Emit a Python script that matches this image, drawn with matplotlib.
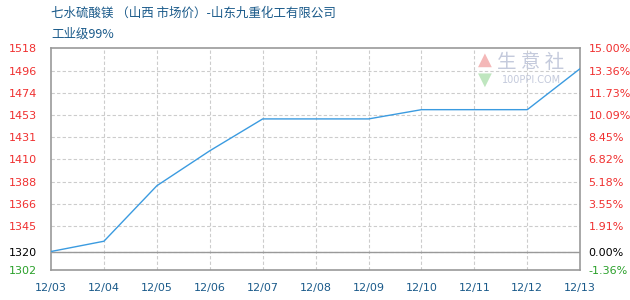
import matplotlib.pyplot as plt

plt.rcParams['font.family'] = ['Noto Sans CJK SC', 'DejaVu Sans']

# data
dates = ['12/03', '12/04', '12/05', '12/06', '12/07', '12/08',
         '12/09', '12/10', '12/11', '12/12', '12/13']
prices = [1320, 1330, 1384, 1418, 1449, 1449, 1449, 1458, 1458, 1458, 1498]

base = 1320
left_ticks = [1302, 1320, 1345, 1366, 1388, 1410, 1431, 1453, 1474, 1496, 1518]
right_labels = ['-1.36%', '0.00%', '1.91%', '3.55%', '5.18%', '6.82%',
                '8.45%', '10.09%', '11.73%', '13.36%', '15.00%']

red = '#f03030'
blue_txt = '#1a5a8a'
grid_c = '#cccccc'
spine_c = '#999999'

fig = plt.figure(figsize=(6.3, 3.0), dpi=100)
ax = fig.add_axes([0.081, 0.1, 0.84, 0.74])

x = list(range(len(dates)))
ax.plot(x, prices, color='#3b9be0', lw=1.0, zorder=3)

ax.set_xlim(0, len(dates) - 1)
ax.set_ylim(left_ticks[0], left_ticks[-1])

# grid
for xi in x[1:-1]:
    ax.axvline(xi, color=grid_c, lw=0.8, ls=(0, (3, 2)), zorder=1)
for yv in left_ticks[1:-1]:
    ax.axhline(yv, color=grid_c, lw=0.8, ls=(0, (3, 2)), zorder=1)
ax.axhline(base, color=spine_c, lw=1.0, zorder=2)

for s in ax.spines.values():
    s.set_color(spine_c)
    s.set_linewidth(1.2)

ax.set_xticks(x)
ax.set_xticklabels(dates, fontsize=8, color=blue_txt, family='DejaVu Sans')
ax.set_yticks(left_ticks)
ax.set_yticklabels([str(v) for v in left_ticks], fontsize=8, family='DejaVu Sans')
ax.tick_params(length=0, pad=9)
ax.tick_params(axis='y', pad=10)

ax2 = ax.twinx()
ax2.set_ylim(left_ticks[0], left_ticks[-1])
ax2.set_yticks(left_ticks)
ax2.set_yticklabels(right_labels, fontsize=8, family='DejaVu Sans')
ax2.tick_params(length=0, pad=6)
for s in ax2.spines.values():
    s.set_visible(False)

for a in (ax, ax2):
    labs = a.get_yticklabels()
    for i, t in enumerate(labs):
        if i == 0:
            t.set_color('#2aa02a')
        elif i == 1:
            t.set_color('black')
        else:
            t.set_color(red)

# watermark (100ppi logo)
fig.text(0.770, 0.80, '▲', fontsize=13, color='#f4b8b8', ha='center', va='center',
         family='DejaVu Sans')
fig.text(0.770, 0.735, '▼', fontsize=13, color='#bfe6bf', ha='center', va='center',
         family='DejaVu Sans')
fig.text(0.843, 0.79, '生 意 社', fontsize=14, color='#c4cadc', ha='center', va='center')
fig.text(0.843, 0.733, '100PPI.COM', fontsize=7, color='#c4cadc', ha='center', va='center',
         family='DejaVu Sans')

# title
fig.text(0.081, 0.955, '七水硫酸镁 （山西 市场价）-山东九重化工有限公司', fontsize=9,
         color=blue_txt, ha='left', va='center')
fig.text(0.081, 0.885, '工业级99%', fontsize=9, color=blue_txt, ha='left', va='center')

fig.savefig('out.png', dpi=100)
